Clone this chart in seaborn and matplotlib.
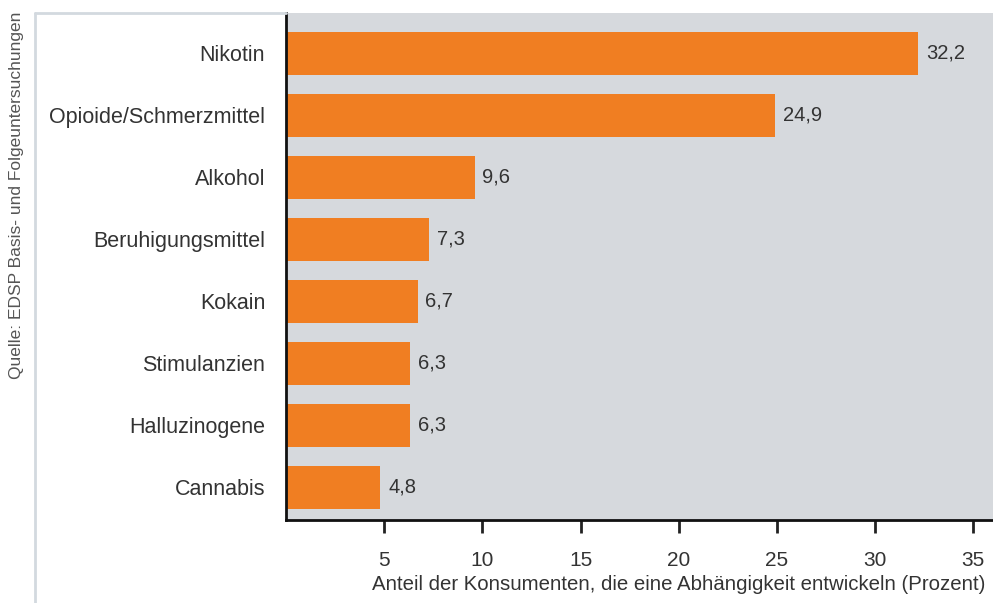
import matplotlib
matplotlib.use("Agg")
import matplotlib.pyplot as plt
from matplotlib.lines import Line2D
import seaborn as sns
import pandas as pd

substances = ["Nikotin", "Opioide/Schmerzmittel", "Alkohol", "Beruhigungsmittel",
              "Kokain", "Stimulanzien", "Halluzinogene", "Cannabis"]
shares = [32.2, 24.9, 9.6, 7.3, 6.7, 6.3, 6.3, 4.8]
xticks = [5, 10, 15, 20, 25, 30, 35]

df = pd.DataFrame({"substance": substances, "share": shares})

sns.set_style("white")
plt.rcParams["font.family"] = ["Liberation Sans", "DejaVu Sans"]
text_col = "#333333"

fig = plt.figure(figsize=(9.93, 6.03), dpi=100)
ax = fig.add_axes([0.288, 0.1376, 0.712, 0.8405])
ax.set_facecolor("#d6d9dd")

sns.barplot(data=df, x="share", y="substance", color="#f07e22", saturation=1,
            width=0.7, linewidth=0, ax=ax)

for i, v in enumerate(shares):
    ax.text(v + 0.4, i, f"{v:.1f}".replace(".", ","), va="center", ha="left",
            fontsize=14.5, color=text_col)

ax.set_xlim(0, 36)
ax.set_ylim(7.53, -0.65)
ax.set_xticks(xticks)
ax.tick_params(axis="x", bottom=True, direction="out", length=9, width=2,
               color="#222222", labelsize=15, labelcolor=text_col, pad=13)
ax.tick_params(axis="y", left=False, length=0, labelsize=15.5,
               labelcolor=text_col, pad=15)
ax.set_ylabel("")
ax.set_xlabel("Anteil der Konsumenten, die eine Abhängigkeit entwickeln (Prozent)",
              fontsize=14.7, color=text_col)
ax.xaxis.set_label_coords(0.989, -0.128)
ax.xaxis.label.set_horizontalalignment("right")
ax.xaxis.label.set_verticalalignment("center")

for s in ["top", "right"]:
    ax.spines[s].set_visible(False)
for s in ["left", "bottom"]:
    ax.spines[s].set_color("#111111")
    ax.spines[s].set_linewidth(2)

# light frame around the graphic
frame_col = "#d3d9df"
fig.add_artist(Line2D([0.0355, 0.0355], [0.0, 0.978], color=frame_col, lw=2,
                      transform=fig.transFigure))
fig.add_artist(Line2D([0.0355, 0.288], [0.978, 0.978], color=frame_col, lw=2,
                      transform=fig.transFigure))

fig.text(0.017, 0.98, "Quelle: EDSP Basis- und Folgeuntersuchungen", rotation=90,
         ha="center", va="top", fontsize=12.5, color="#555555")

fig.savefig("out.png", dpi=100)
